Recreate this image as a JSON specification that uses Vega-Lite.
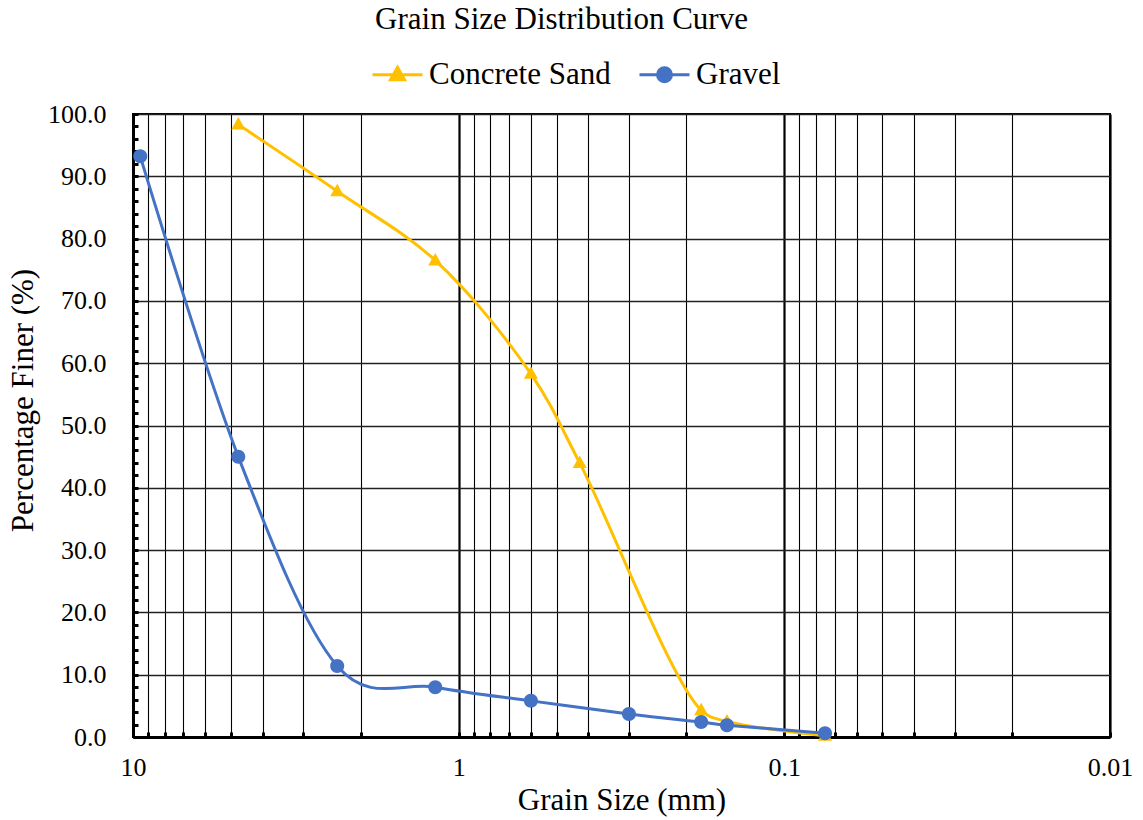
{
  "$schema": "https://vega.github.io/schema/vega-lite/v6.json",
  "width": 977,
  "height": 623,
  "autosize": {"type": "none"},
  "padding": {"left": 133, "top": 114, "right": 33, "bottom": 83},
  "background": "white",
  "config": {
    "font": "Liberation Serif",
    "view": {"stroke": "black", "strokeWidth": 2},
    "legend": {
      "orient": "none",
      "legendX": 238,
      "legendY": -66,
      "direction": "horizontal",
      "columns": 2,
      "padding": 0,
      "labelFont": "Liberation Serif",
      "labelFontSize": 31,
      "labelColor": "black",
      "labelLimit": 0,
      "labelOffset": 5,
      "columnPadding": 22,
      "symbolSize": 2500,
      "symbolStrokeWidth": 3,
      "symbolOpacity": 1
    }
  },
  "title": {
    "text": "Grain Size Distribution Curve",
    "font": "Liberation Serif",
    "fontSize": 31,
    "fontWeight": "normal",
    "color": "black",
    "anchor": "middle",
    "dx": -60,
    "offset": 12
  },
  "data": {
    "values": [
      {"series": "Concrete Sand", "size": 4.75, "finer": 98.3},
      {"series": "Concrete Sand", "size": 2.36, "finer": 87.6},
      {"series": "Concrete Sand", "size": 1.18, "finer": 76.5},
      {"series": "Concrete Sand", "size": 0.6, "finer": 58.3},
      {"series": "Concrete Sand", "size": 0.425, "finer": 44.0},
      {"series": "Concrete Sand", "size": 0.18, "finer": 4.3},
      {"series": "Concrete Sand", "size": 0.15, "finer": 2.5},
      {"series": "Concrete Sand", "size": 0.075, "finer": 0.2},
      {"series": "Gravel", "size": 9.5, "finer": 93.2},
      {"series": "Gravel", "size": 4.75, "finer": 45.0},
      {"series": "Gravel", "size": 2.36, "finer": 11.4},
      {"series": "Gravel", "size": 1.18, "finer": 8.0},
      {"series": "Gravel", "size": 0.6, "finer": 5.8},
      {"series": "Gravel", "size": 0.3, "finer": 3.7},
      {"series": "Gravel", "size": 0.18, "finer": 2.4},
      {"series": "Gravel", "size": 0.15, "finer": 1.9},
      {"series": "Gravel", "size": 0.075, "finer": 0.6}
    ]
  },
  "encoding": {
    "x": {
      "field": "size",
      "type": "quantitative",
      "scale": {"type": "log", "domain": [0.01, 10], "reverse": true, "nice": false},
      "axis": {
        "title": "Grain Size (mm)",
        "titleFont": "Liberation Serif",
        "titleFontSize": 31,
        "titleFontWeight": "normal",
        "titleColor": "black",
        "titlePadding": 5,
        "values": [10, 9, 8, 7, 6, 5, 4, 3, 2, 1, 0.9, 0.8, 0.7, 0.6, 0.5, 0.4, 0.3, 0.2, 0.1, 0.09, 0.08, 0.07, 0.06, 0.05, 0.04, 0.03, 0.02, 0.01],
        "format": "~g",
        "labelExpr": "indexof([10, 1, 0.1, 0.01], datum.value) >= 0 ? datum.label : ''",
        "labelOverlap": false,
        "labelFlush": false,
        "labelFont": "Liberation Serif",
        "labelFontSize": 26,
        "labelColor": "black",
        "labelPadding": 22,
        "domainColor": "black",
        "domainWidth": 3,
        "tickColor": "black",
        "tickSize": -5,
        "tickWidth": 3,
        "grid": true,
        "gridColor": "black",
        "gridOpacity": 1,
        "gridWidth": {"condition": {"test": "indexof([10, 1, 0.1, 0.01], datum.value) >= 0", "value": 2.2}, "value": 1.1}
      }
    },
    "y": {
      "field": "finer",
      "type": "quantitative",
      "scale": {"domain": [0, 100], "nice": false},
      "axis": {
        "title": "Percentage Finer (%)",
        "titleFont": "Liberation Serif",
        "titleFontSize": 31,
        "titleFontWeight": "normal",
        "titleColor": "black",
        "titleY": 286,
        "titlePadding": 8,
        "values": [0, 2, 4, 6, 8, 10, 12, 14, 16, 18, 20, 22, 24, 26, 28, 30, 32, 34, 36, 38, 40, 42, 44, 46, 48, 50, 52, 54, 56, 58, 60, 62, 64, 66, 68, 70, 72, 74, 76, 78, 80, 82, 84, 86, 88, 90, 92, 94, 96, 98, 100],
        "labelExpr": "datum.value % 10 === 0 ? format(datum.value, '.1f') : ''",
        "labelOverlap": false,
        "labelFont": "Liberation Serif",
        "labelFontSize": 26,
        "labelColor": "black",
        "labelPadding": 32,
        "domainColor": "black",
        "domainWidth": 3,
        "tickColor": "black",
        "tickSize": -5,
        "tickWidth": 3,
        "grid": true,
        "gridColor": "#222",
        "gridWidth": 1.6,
        "gridOpacity": {"condition": {"test": "datum.value % 10 === 0", "value": 1}, "value": 0}
      }
    }
  },
  "layer": [
    {
      "transform": [{"filter": "datum.series === 'Concrete Sand'"}],
      "mark": {"type": "line", "interpolate": "catmull-rom", "strokeWidth": 3, "clip": false},
      "encoding": {
        "stroke": {
          "field": "series",
          "type": "nominal",
          "scale": {"domain": ["Concrete Sand", "Gravel"], "range": ["#FFC000", "#4472C4"]},
          "legend": {"title": null}
        }
      }
    },
    {
      "transform": [{"filter": "datum.series === 'Gravel'"}],
      "mark": {"type": "line", "interpolate": "cardinal", "strokeWidth": 3, "clip": false},
      "encoding": {
        "stroke": {
          "field": "series",
          "type": "nominal",
          "scale": {"domain": ["Concrete Sand", "Gravel"], "range": ["#FFC000", "#4472C4"]},
          "legend": {"title": null}
        }
      }
    },
    {
      "mark": {"type": "point", "filled": true, "opacity": 1, "strokeWidth": 0, "clip": false},
      "encoding": {
        "fill": {
          "field": "series",
          "type": "nominal",
          "scale": {"domain": ["Concrete Sand", "Gravel"], "range": ["#FFC000", "#4472C4"]},
          "legend": {"title": null}
        },
        "shape": {
          "field": "series",
          "type": "nominal",
          "scale": {
            "domain": ["Concrete Sand", "Gravel"],
            "range": [
              "M-1,0H1M0,-0.3L0.28,0.2L-0.28,0.2Z",
              "M-1,0H1M0.28,0A0.28,0.28 0 1,1 -0.28,0A0.28,0.28 0 1,1 0.28,0Z"
            ]
          },
          "legend": {"title": null}
        },
        "size": {"value": 2500}
      }
    }
  ]
}
